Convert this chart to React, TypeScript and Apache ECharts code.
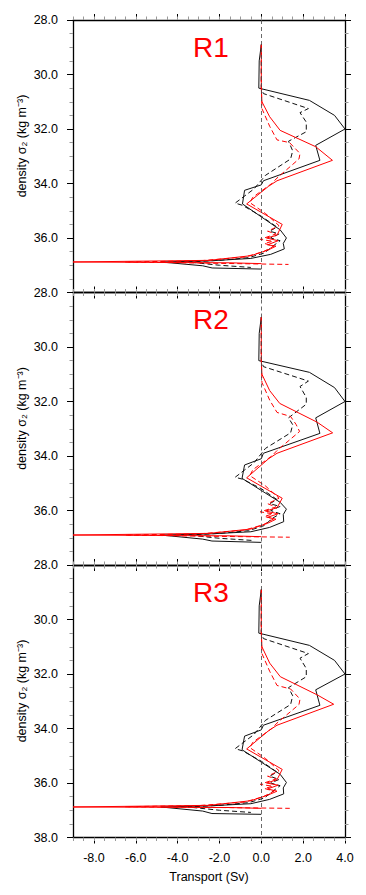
import React, { useEffect, useRef } from "react";
import * as echarts from "echarts";

type Pt = [number, number];

const panelNames = ["R1", "R2", "R3"];
const xMajorTicks = [-8, -6, -4, -2, 0, 2, 4];
const yAxisTitle = "density σ₂ (kg m⁻³)";
const xAxisTitle = "Transport (Sv)";

// [transport (Sv), density sigma2]
const r1BlackSolid: Pt[] = [[0.0,28.9],[-0.1,29.5],[-0.12,30.5],[2.3,30.95],[3.5,31.5],[4.0,32.0],[2.6,32.6],[2.8,33.15],[0.1,33.9],[0.0,34.05],[-0.8,34.25],[-0.9,34.75],[0.9,35.7],[1.2,36.0],[1.05,36.2],[1.1,36.4],[0.45,36.6],[-0.5,36.75],[-2.5,36.84],[-4.8,36.88],[-2.8,37.02],[-2.35,37.1],[0.0,37.14]];
const r1BlackDashed: Pt[] = [[0.0,28.9],[0.0,30.5],[0.1,30.7],[2.25,31.25],[1.85,31.4],[2.15,31.75],[2.15,32.1],[1.3,32.45],[1.5,32.8],[1.4,33.1],[0.2,33.7],[-0.35,34.2],[-1.25,34.72],[-0.9,34.8],[0.0,35.2],[0.75,35.6],[0.4,35.75],[0.85,35.85],[0.45,36.0],[0.9,36.1],[0.55,36.3],[0.15,36.55],[-0.6,36.72],[-2.0,36.82],[-3.5,36.88],[-2.0,37.0],[-0.5,37.08]];
const r1RedSolid: Pt[] = [[0.0,28.9],[0.0,30.5],[0.03,31.0],[0.4,31.55],[0.9,32.05],[2.6,32.65],[3.4,33.15],[0.75,33.9],[0.35,34.1],[-0.7,34.75],[1.0,35.5],[0.75,35.9],[0.25,36.0],[0.8,36.1],[0.3,36.25],[0.7,36.3],[0.3,36.45],[-0.5,36.65],[-2.5,36.82],[-9.0,36.88],[-1.5,36.91],[0.0,36.94]];
const r1RedDashed: Pt[] = [[0.0,28.9],[0.0,30.5],[0.03,31.25],[0.4,31.9],[0.75,32.4],[1.35,32.5],[1.85,32.9],[1.8,33.1],[0.75,33.8],[0.5,34.0],[-0.4,34.5],[-0.55,34.7],[0.2,35.1],[0.85,35.55],[0.3,35.75],[0.7,35.85],[-0.05,36.05],[0.55,36.12],[0.15,36.2],[0.6,36.3],[0.1,36.5],[-0.8,36.7],[-3.0,36.84],[-6.5,36.88],[-2.0,36.93],[1.3,36.97]];

const r2BlackSolid: Pt[] = [[0.0,28.9],[-0.1,29.5],[-0.12,30.5],[2.3,30.93],[3.5,31.49],[4.0,32.0],[2.6,32.6],[2.8,33.17],[0.1,33.9],[0.0,34.1],[-0.8,34.33],[-0.92,34.82],[0.9,35.7],[1.2,35.95],[1.05,36.15],[1.07,36.41],[0.4,36.62],[-0.5,36.78],[-2.5,36.86],[-4.8,36.9],[-2.8,37.05],[-2.36,37.12],[0.0,37.17]];
const r2BlackDashed: Pt[] = [[0.0,28.9],[0.0,30.5],[0.1,30.72],[2.25,31.25],[1.85,31.45],[2.15,31.85],[2.15,32.1],[1.3,32.6],[1.5,32.85],[1.4,33.15],[0.2,33.72],[-0.35,34.25],[-1.25,34.78],[-0.9,34.85],[0.0,35.2],[0.75,35.6],[0.4,35.75],[0.9,35.85],[0.45,36.0],[0.9,36.12],[0.5,36.3],[0.15,36.55],[-0.6,36.74],[-2.0,36.84],[-3.5,36.9],[-2.0,37.02],[-0.4,37.1]];
const r2RedSolid: Pt[] = [[0.0,28.9],[0.0,30.5],[0.03,31.0],[0.4,31.6],[0.88,32.07],[2.67,32.76],[3.41,33.15],[0.75,33.9],[0.35,34.1],[-0.7,34.8],[1.0,35.55],[0.75,35.9],[0.2,36.02],[0.8,36.12],[0.3,36.25],[0.7,36.32],[0.3,36.47],[-0.5,36.68],[-2.5,36.84],[-9.0,36.9],[-1.5,36.93],[0.0,36.96]];
const r2RedDashed: Pt[] = [[0.0,28.9],[0.0,30.5],[0.03,31.3],[0.4,31.95],[0.75,32.4],[1.4,32.55],[1.66,32.84],[1.83,33.1],[0.75,33.8],[0.5,34.0],[-0.4,34.5],[-0.55,34.72],[0.2,35.1],[0.85,35.55],[0.3,35.75],[0.7,35.87],[-0.05,36.05],[0.55,36.12],[0.15,36.22],[0.6,36.3],[0.1,36.52],[-0.8,36.72],[-3.0,36.86],[-6.5,36.9],[-2.0,36.95],[1.36,36.98]];

const r3BlackSolid: Pt[] = [[0.0,28.9],[-0.1,29.5],[-0.12,30.5],[2.3,30.95],[3.5,31.5],[4.0,32.0],[2.6,32.58],[2.8,33.15],[0.1,33.88],[0.0,34.05],[-0.8,34.28],[-0.92,34.78],[0.9,35.68],[1.2,35.98],[1.05,36.18],[1.07,36.4],[0.4,36.6],[-0.5,36.76],[-2.5,36.84],[-4.8,36.88],[-2.8,37.03],[-2.36,37.12],[0.0,37.15]];
const r3BlackDashed: Pt[] = [[0.0,28.9],[0.0,30.5],[0.1,30.7],[2.25,31.25],[1.85,31.42],[2.15,31.8],[2.15,32.1],[1.3,32.5],[1.5,32.8],[1.4,33.12],[0.2,33.7],[-0.35,34.22],[-1.25,34.74],[-0.9,34.82],[0.0,35.2],[0.75,35.6],[0.4,35.75],[0.85,35.87],[0.45,36.0],[0.9,36.1],[0.55,36.3],[0.15,36.55],[-0.6,36.72],[-2.0,36.82],[-3.5,36.88],[-2.0,37.0],[-0.5,37.08]];
const r3RedSolid: Pt[] = [[0.0,28.9],[0.0,30.5],[0.03,31.0],[0.4,31.6],[0.91,32.1],[2.68,32.77],[3.46,33.11],[0.75,33.88],[0.35,34.08],[-0.7,34.75],[1.0,35.5],[0.75,35.88],[0.25,36.0],[0.8,36.08],[0.3,36.22],[0.75,36.3],[0.3,36.45],[-0.5,36.65],[-2.5,36.82],[-9.0,36.88],[-1.5,36.9],[0.0,36.93]];
const r3RedDashed: Pt[] = [[0.0,28.9],[0.0,30.5],[0.03,31.25],[0.4,31.9],[0.75,32.42],[1.4,32.55],[1.85,32.92],[1.8,33.12],[0.75,33.8],[0.5,34.0],[-0.4,34.5],[-0.55,34.7],[0.2,35.1],[0.85,35.55],[0.3,35.75],[0.7,35.85],[-0.05,36.05],[0.55,36.12],[0.15,36.2],[0.6,36.3],[0.1,36.5],[-0.8,36.7],[-3.0,36.83],[-6.5,36.87],[-2.0,36.9],[1.36,36.93]];

const panelData = [
  { blackSolid: r1BlackSolid, blackDashed: r1BlackDashed, redSolid: r1RedSolid, redDashed: r1RedDashed },
  { blackSolid: r2BlackSolid, blackDashed: r2BlackDashed, redSolid: r2RedSolid, redDashed: r2RedDashed },
  { blackSolid: r3BlackSolid, blackDashed: r3BlackDashed, redSolid: r3RedSolid, redDashed: r3RedDashed },
];

const FONT = "Liberation Sans";
const GRID_LEFT = 73;
const GRID_WIDTH = 272;
const GRID_TOP = 20;
const PANEL_H = 272.5;

export default function App() {
  const ref = useRef<HTMLDivElement>(null);

  useEffect(() => {
    if (!ref.current) return;
    const chart = echarts.init(ref.current, undefined, { renderer: "svg" });

    const grids: any[] = [];
    const xAxes: any[] = [];
    const yAxes: any[] = [];
    const series: any[] = [];
    const titles: any[] = [];
    const graphics: any[] = [];

    panelNames.forEach((name, i) => {
      const top = GRID_TOP + i * PANEL_H;
      grids.push({ left: GRID_LEFT, width: GRID_WIDTH, top, height: PANEL_H, outerBoundsMode: "none" });
      titles.push({
        text: name,
        left: 193,
        top: top + 13,
        padding: 0,
        textStyle: { color: "#ff0000", fontSize: 28, fontWeight: "normal", fontFamily: FONT },
      });
      graphics.push({
        type: "text",
        x: 22,
        y: top + 126,
        rotation: Math.PI / 2,
        style: {
          text: yAxisTitle,
          fontSize: 12.5,
          fontFamily: FONT,
          fill: "#000",
          align: "center",
          verticalAlign: "middle",
        },
      });
      const isLast = i === panelNames.length - 1;
      for (const pos of ["bottom", "top"]) {
        xAxes.push({
          type: "value",
          gridIndex: i,
          position: pos,
          min: -9,
          max: 4,
          axisLine: { show: true, onZero: false, lineStyle: { color: "#000", width: 1.3 } },
          axisTick: { show: true, customValues: xMajorTicks, length: 6, lineStyle: { color: "#000", width: 1 } },
          axisLabel: {
            show: isLast && pos === "bottom",
            customValues: xMajorTicks,
            formatter: (v: number) => v.toFixed(1),
            margin: 14,
            fontSize: 12.5,
            color: "#000",
            fontFamily: FONT,
          },
          splitLine: { show: false },
          name: isLast && pos === "bottom" ? xAxisTitle : "",
          nameLocation: "middle",
          nameGap: 33,
          nameTextStyle: { fontSize: 12.5, color: "#000", fontFamily: FONT },
        });
      }
      for (const pos of ["bottom", "top"]) {
        xAxes.push({
          type: "value",
          gridIndex: i,
          position: pos,
          min: -9,
          max: 4,
          interval: 0.5,
          axisLine: { show: false, onZero: false },
          axisTick: { show: true, length: 3.5, lineStyle: { color: "#999", width: 1 } },
          axisLabel: { show: false },
          splitLine: { show: false },
        });
      }
      for (const pos of ["left", "right"]) {
        yAxes.push({
          type: "value",
          gridIndex: i,
          position: pos,
          inverse: true,
          min: 28,
          max: 38,
          interval: 2,
          axisLine: { show: true, onZero: false, lineStyle: { color: "#000", width: 1.3 } },
          axisTick: { show: true, length: 6, lineStyle: { color: "#000", width: 1 } },
          minorTick: { show: true, splitNumber: 4, length: 3.5, lineStyle: { color: "#999", width: 1 } },
          axisLabel: {
            show: pos === "left",
            formatter: (v: number) => v.toFixed(1),
            showMaxLabel: isLast,
            margin: 15,
            fontSize: 12.5,
            color: "#000",
            fontFamily: FONT,
          },
          splitLine: { show: false },
          minorSplitLine: { show: false },
        });
      }
      const xi = i * 4;
      const yi = i * 2;
      const d = panelData[i];
      const base = {
        type: "line",
        xAxisIndex: xi,
        yAxisIndex: yi,
        symbol: "none",
        showSymbol: false,
        silent: true,
      };
      series.push({
        ...base,
        name: `${name} black dashed`,
        data: d.blackDashed,
        lineStyle: { color: "#111", width: 1, type: [5, 3] },
        markLine: {
          silent: true,
          symbol: ["none", "none"],
          label: { show: false },
          lineStyle: { color: "#444", width: 0.8, type: [4, 3] },
          data: [{ xAxis: 0 }],
        },
      });
      series.push({ ...base, name: `${name} black solid`, data: d.blackSolid, lineStyle: { color: "#111", width: 1, type: "solid" } });
      series.push({ ...base, name: `${name} red dashed`, data: d.redDashed, lineStyle: { color: "#ff0000", width: 1, type: [5, 3] } });
      series.push({ ...base, name: `${name} red solid`, data: d.redSolid, lineStyle: { color: "#ff0000", width: 1, type: "solid" } });
    });

    chart.setOption({
      animation: false,
      backgroundColor: "#ffffff",
      title: titles,
      grid: grids,
      xAxis: xAxes,
      yAxis: yAxes,
      series,
      graphic: graphics,
    });

    return () => chart.dispose();
  }, []);

  return (
    <div
      ref={ref}
      style={{ position: "fixed", left: 0, top: 0, width: 366, height: 895, background: "#fff" }}
    />
  );
}
